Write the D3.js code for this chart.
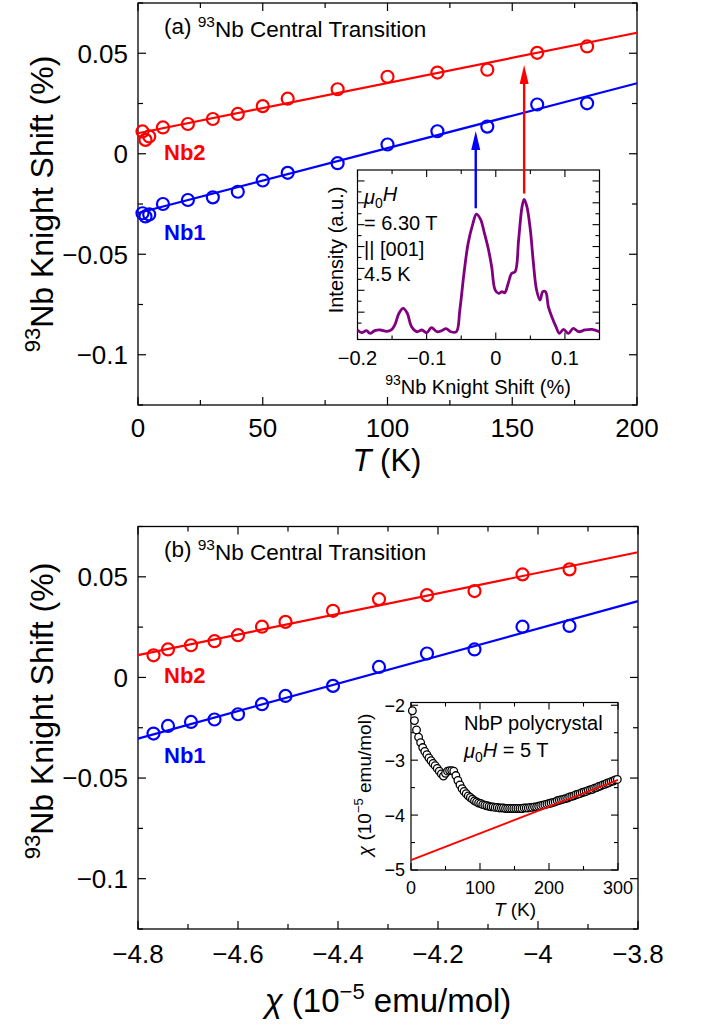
<!DOCTYPE html>
<html><head><meta charset="utf-8">
<script src="https://cdn.jsdelivr.net/npm/d3@7"></script>
<style>
body{margin:0;background:#fff}
svg{display:block}
text{font-family:"Liberation Sans",Arial,Helvetica,sans-serif;fill:#000}
</style>
</head><body>
<svg id="c" width="705" height="1025"></svg>
<script>
// ---------------- DATA ----------------
// Panel (a): Knight shift vs temperature
const tempA = [1.8, 3, 4.5, 10, 20, 30, 40, 50, 60, 80, 100, 120, 140, 160, 180];
const nb2ShiftA = [0.0111, 0.0069, 0.0086, 0.0131, 0.0148, 0.0173, 0.0198, 0.0237, 0.0274, 0.0321, 0.0383, 0.0404, 0.0418, 0.0502, 0.0534];
const nb1ShiftA = [-0.0296, -0.0312, -0.0302, -0.0250, -0.0230, -0.0217, -0.0189, -0.0133, -0.0095, -0.0047, 0.0046, 0.0112, 0.0135, 0.0245, 0.0251];
const fitTempA = [0, 200];
const nb2FitA = [0.0102, 0.0602];
const nb1FitA = [-0.0295, 0.0351];
const xTicksA = [0, 50, 100, 150, 200];
const xTickLabelsA = ["0", "50", "100", "150", "200"];
const yTicks = [0.05, 0, -0.05, -0.1];
const yTickLabels = ["0.05", "0", "\u22120.05", "\u22120.1"];

// Inset (a): 93Nb spectrum at 4.5 K
const specShift = [-0.200,-0.194,-0.187,-0.182,-0.175,-0.167,-0.158,-0.151,-0.146,-0.140,-0.134,-0.128,-0.122,-0.114,-0.107,-0.100,-0.093,-0.085,-0.078,-0.072,-0.065,-0.057,-0.052,-0.046,-0.040,-0.033,-0.028,-0.022,-0.017,-0.011,-0.006,-0.001,0.004,0.009,0.013,0.018,0.023,0.028,0.033,0.038,0.041,0.045,0.050,0.054,0.059,0.064,0.068,0.072,0.076,0.081,0.087,0.092,0.098,0.105,0.112,0.120,0.129,0.139,0.150];
const specIntensity = [0.37,0.12,0.31,0.06,0.31,0.37,0.24,0.37,0.83,1.90,2.35,1.90,0.68,0.21,0.37,0.12,0.59,0.21,0.31,0.49,0.21,0.21,2.20,5.55,8.29,10.12,10.97,10.49,9.36,7.84,6.17,4.03,3.72,3.87,3.78,4.65,5.55,5.70,8.60,11.65,12.32,11.65,9.51,6.77,4.03,3.11,3.87,3.87,2.51,1.59,0.68,0.06,0.43,0.06,0.52,0.21,0.37,0.43,0.21];
const specXTicks = [-0.2, -0.1, 0, 0.1];
const specXTickLabels = ["\u22120.2", "\u22120.1", "0", "0.1"];
const arrowShift = [-0.029, 0.041];      // Nb1, Nb2 peak positions
const arrowTailInt = [11.5, 12.85];       // start just above the peaks
const arrowTipShift = [0.0113, 0.0441];   // arrow tips in panel (a) units

// Panel (b): Knight shift vs susceptibility
const chiB = [-4.769, -4.740, -4.694, -4.647, -4.600, -4.552, -4.505, -4.410, -4.318, -4.222, -4.127, -4.031, -3.937];
const nb2ShiftB = [0.0110, 0.0139, 0.0160, 0.0180, 0.0210, 0.0252, 0.0276, 0.0331, 0.0389, 0.0409, 0.0429, 0.0512, 0.0537];
const nb1ShiftB = [-0.0279, -0.0241, -0.0221, -0.0209, -0.0183, -0.0133, -0.0092, -0.0042, 0.0052, 0.0119, 0.0139, 0.0252, 0.0256];
const fitChiB = [-4.8, -3.8];
const nb2FitB = [0.0111, 0.0622];
const nb1FitB = [-0.0304, 0.0379];
const xTicksB = [-4.8, -4.6, -4.4, -4.2, -4.0, -3.8];
const xTickLabelsB = ["\u22124.8", "\u22124.6", "\u22124.4", "\u22124.2", "\u22124", "\u22123.8"];

// Inset (b): chi(T) of NbP polycrystal
const susT = [2,5,8,11,14,17,20,23,26,29,32,35,38,41,44,47,50,53,56,59,62,65,68,71,74,77,80,83,86,89,92,95,98,101,104,107,110,113,116,119,122,125,128,131,134,137,140,143,146,149,152,155,158,161,164,167,170,173,176,179,182,185,188,191,194,197,200,203,206,209,212,215,218,221,224,227,230,233,236,239,242,245,248,251,254,257,260,263,266,269,272,275,278,281,284,287,290,293,296,299];
const susChi = [-2.10,-2.28,-2.45,-2.58,-2.68,-2.77,-2.84,-2.90,-2.96,-3.01,-3.06,-3.10,-3.15,-3.20,-3.25,-3.29,-3.24,-3.20,-3.19,-3.19,-3.20,-3.28,-3.37,-3.45,-3.52,-3.57,-3.61,-3.65,-3.68,-3.71,-3.74,-3.76,-3.78,-3.79,-3.81,-3.82,-3.83,-3.84,-3.85,-3.85,-3.86,-3.86,-3.87,-3.87,-3.87,-3.88,-3.88,-3.88,-3.88,-3.88,-3.88,-3.88,-3.88,-3.88,-3.87,-3.87,-3.87,-3.86,-3.86,-3.85,-3.85,-3.84,-3.83,-3.82,-3.81,-3.80,-3.79,-3.78,-3.77,-3.76,-3.74,-3.73,-3.72,-3.71,-3.70,-3.69,-3.67,-3.66,-3.65,-3.63,-3.62,-3.61,-3.59,-3.58,-3.57,-3.55,-3.54,-3.53,-3.51,-3.50,-3.48,-3.47,-3.45,-3.44,-3.42,-3.41,-3.39,-3.38,-3.36,-3.35];
const susFitT = [0, 300];
const susFitChi = [-4.82, -3.36];
const susXTicks = [0, 100, 200, 300];
const susYTicks = [-2, -3, -4, -5];
const susYTickLabels = ["\u22122", "\u22123", "\u22124", "\u22125"];

// ---------------- DRAWING ----------------
const RED = "#ff0000", BLUE = "#0000ff", PURPLE = "#800080";
const svg = d3.select("#c");

function frame(g, x, y, o) {
  const [x0, x1] = x.range(), [y0, y1] = y.range(); // y0 bottom, y1 top
  g.append("rect").attr("x", x0).attr("y", y1).attr("width", x1 - x0).attr("height", y0 - y1)
    .attr("fill", o.fill || "none").attr("stroke", "#000").attr("stroke-width", o.sw || 1.3);
  const tk = g.append("g").attr("stroke", "#000").attr("stroke-width", o.tw || 1.2);
  const addX = (vals, len) => vals.forEach(v => {
    const px = x(v);
    tk.append("line").attr("x1", px).attr("x2", px).attr("y1", y0).attr("y2", y0 - len);
    tk.append("line").attr("x1", px).attr("x2", px).attr("y1", y1).attr("y2", y1 + len);
  });
  const addY = (vals, len) => vals.forEach(v => {
    const py = y(v);
    tk.append("line").attr("y1", py).attr("y2", py).attr("x1", x0).attr("x2", x0 + len);
    tk.append("line").attr("y1", py).attr("y2", py).attr("x1", x1).attr("x2", x1 - len);
  });
  addX(o.xMinor, o.minLen); addX(o.xMajor, o.majLen);
  addY(o.yMinor, o.minLen); addY(o.yMajor, o.majLen);
}
function between(vals, ticks) { // minor tick values lying between majors
  return vals.filter(v => !ticks.some(t => Math.abs(t - v) < 1e-9));
}
function sup93(t, size) {
  t.append("tspan").attr("font-size", size).attr("dy", "-0.42em").text("93");
  t.append("tspan").attr("dy", "0.42em").text("Nb Knight Shift (%)");
}

// ===== Panel (a) =====
const xA = d3.scaleLinear().domain([0, 200]).range([138, 637]);
const yA = d3.scaleLinear().domain([-0.125, 0.075]).range([405, 3]);
const gA = svg.append("g");
frame(gA, xA, yA, {
  xMajor: xTicksA, xMinor: between(d3.range(0, 201, 25), xTicksA),
  yMajor: yTicks, yMinor: between(d3.range(-0.125, 0.0751, 0.025).map(v => +v.toFixed(3)), yTicks),
  majLen: 8, minLen: 5
});
xTicksA.forEach((v, i) => gA.append("text").attr("x", xA(v)).attr("y", 437).attr("text-anchor", "middle")
  .attr("font-size", 26).text(xTickLabelsA[i]));
yTicks.forEach((v, i) => gA.append("text").attr("x", 128).attr("y", yA(v)).attr("dy", "0.36em")
  .attr("text-anchor", "end").attr("font-size", 26).text(yTickLabels[i]));

const lineA = d3.line().x(d => xA(d[0])).y(d => yA(d[1]));
gA.append("path").attr("d", lineA(d3.zip(fitTempA, nb2FitA))).attr("stroke", RED).attr("stroke-width", 2.2).attr("fill", "none");
gA.append("path").attr("d", lineA(d3.zip(fitTempA, nb1FitA))).attr("stroke", BLUE).attr("stroke-width", 2.2).attr("fill", "none");
gA.append("g").selectAll("circle").data(d3.zip(tempA, nb2ShiftA)).join("circle")
  .attr("cx", d => xA(d[0])).attr("cy", d => yA(d[1])).attr("r", 6)
  .attr("fill", "none").attr("stroke", RED).attr("stroke-width", 2.2);
gA.append("g").selectAll("circle").data(d3.zip(tempA, nb1ShiftA)).join("circle")
  .attr("cx", d => xA(d[0])).attr("cy", d => yA(d[1])).attr("r", 6)
  .attr("fill", "none").attr("stroke", BLUE).attr("stroke-width", 2.2);

// title
const tA = gA.append("text").attr("x", 164).attr("y", 34).attr("font-size", 22.5);
tA.append("tspan").text("(a) ");
tA.append("tspan").attr("font-size", 15.5).attr("dy", "-0.45em").text("93");
tA.append("tspan").attr("dy", "0.45em").text("Nb Central Transition");
gA.append("text").attr("x", 164).attr("y", 160).attr("font-size", 22).attr("font-weight", "bold").style("fill", RED).text("Nb2");
gA.append("text").attr("x", 164).attr("y", 240).attr("font-size", 22).attr("font-weight", "bold").style("fill", BLUE).text("Nb1");

// axis titles
const xtA = gA.append("text").attr("x", 387).attr("y", 471).attr("text-anchor", "middle").attr("font-size", 31);
xtA.append("tspan").attr("font-style", "italic").text("T");
xtA.append("tspan").text(" (K)");
const ytA = gA.append("text").attr("transform", "translate(49,204) rotate(-90)").attr("text-anchor", "middle").attr("font-size", 32);
sup93(ytA, 22);

// ===== Inset (a) =====
const xS = d3.scaleLinear().domain([-0.2, 0.15]).range([357.5, 599.5]);
const yS = d3.scaleLinear().domain([-0.5, 15]).range([339.5, 170]);
const gS = svg.append("g");
frame(gS, xS, yS, {
  fill: "#fff",
  xMajor: specXTicks, xMinor: [-0.15, -0.05, 0.05],
  yMajor: [2, 4, 6, 8, 10, 12, 14], yMinor: [1, 3, 5, 7, 9, 11, 13],
  majLen: 7, minLen: 4, sw: 1.2, tw: 1.1
});
specXTicks.forEach((v, i) => gS.append("text").attr("x", xS(v)).attr("y", 365).attr("text-anchor", "middle")
  .attr("font-size", 20).text(specXTickLabels[i]));
gS.append("path")
  .attr("d", d3.line().curve(d3.curveCatmullRom).x(d => xS(d[0])).y(d => yS(d[1]))(d3.zip(specShift, specIntensity)))
  .attr("fill", "none").attr("stroke", PURPLE).attr("stroke-width", 2.8).attr("stroke-linejoin", "round");
gS.append("text").attr("transform", "translate(343,250) rotate(-90)").attr("text-anchor", "middle")
  .attr("font-size", 20).text("Intensity (a.u.)");
const xlS = gS.append("text").attr("x", 478).attr("y", 391).attr("text-anchor", "middle").attr("font-size", 20);
sup93(xlS, 14);
const m1 = gS.append("text").attr("x", 364).attr("y", 204).attr("font-size", 20);
m1.append("tspan").attr("font-style", "italic").text("\u03bc");
m1.append("tspan").attr("font-size", 14).attr("dy", "0.25em").text("0");
m1.append("tspan").attr("font-style", "italic").attr("dy", "-0.35em").text("H");
gS.append("text").attr("x", 364).attr("y", 230).attr("font-size", 20).text("= 6.30 T");
gS.append("text").attr("x", 364).attr("y", 255.5).attr("font-size", 20).text("|| [001]");
gS.append("text").attr("x", 364).attr("y", 281).attr("font-size", 20).text("4.5 K");

// arrows from spectrum peaks to panel (a) lines
[BLUE, RED].forEach((c, i) => {
  const px = xS(arrowShift[i]);
  const yTail = yS(arrowTailInt[i]);
  const yTip = yA(arrowTipShift[i]);
  const hl = 19, hw = 4.5;
  svg.append("line").attr("x1", px).attr("x2", px).attr("y1", yTail).attr("y2", yTip + hl - 2)
    .attr("stroke", c).attr("stroke-width", 2.4);
  svg.append("path").attr("d", `M${px},${yTip} L${px - hw},${yTip + hl} L${px + hw},${yTip + hl} Z`).attr("fill", c);
});

// ===== Panel (b) =====
const xB = d3.scaleLinear().domain([-4.8, -3.8]).range([138, 638]);
const yB = d3.scaleLinear().domain([-0.125, 0.075]).range([929, 526.5]);
const gB = svg.append("g");
frame(gB, xB, yB, {
  xMajor: xTicksB, xMinor: [-4.7, -4.5, -4.3, -4.1, -3.9],
  yMajor: yTicks, yMinor: between(d3.range(-0.125, 0.0751, 0.025).map(v => +v.toFixed(3)), yTicks),
  majLen: 8, minLen: 5
});
xTicksB.forEach((v, i) => gB.append("text").attr("x", xB(v)).attr("y", 963).attr("text-anchor", "middle")
  .attr("font-size", 26).text(xTickLabelsB[i]));
yTicks.forEach((v, i) => gB.append("text").attr("x", 128).attr("y", yB(v)).attr("dy", "0.36em")
  .attr("text-anchor", "end").attr("font-size", 26).text(yTickLabels[i]));
const lineB = d3.line().x(d => xB(d[0])).y(d => yB(d[1]));
gB.append("path").attr("d", lineB(d3.zip(fitChiB, nb2FitB))).attr("stroke", RED).attr("stroke-width", 2.2).attr("fill", "none");
gB.append("path").attr("d", lineB(d3.zip(fitChiB, nb1FitB))).attr("stroke", BLUE).attr("stroke-width", 2.2).attr("fill", "none");
gB.append("g").selectAll("circle").data(d3.zip(chiB, nb2ShiftB)).join("circle")
  .attr("cx", d => xB(d[0])).attr("cy", d => yB(d[1])).attr("r", 6)
  .attr("fill", "none").attr("stroke", RED).attr("stroke-width", 2.2);
gB.append("g").selectAll("circle").data(d3.zip(chiB, nb1ShiftB)).join("circle")
  .attr("cx", d => xB(d[0])).attr("cy", d => yB(d[1])).attr("r", 6)
  .attr("fill", "none").attr("stroke", BLUE).attr("stroke-width", 2.2);
const tB = gB.append("text").attr("x", 164).attr("y", 557).attr("font-size", 22.5);
tB.append("tspan").text("(b) ");
tB.append("tspan").attr("font-size", 15.5).attr("dy", "-0.45em").text("93");
tB.append("tspan").attr("dy", "0.45em").text("Nb Central Transition");
gB.append("text").attr("x", 164).attr("y", 683).attr("font-size", 22).attr("font-weight", "bold").style("fill", RED).text("Nb2");
gB.append("text").attr("x", 164).attr("y", 763).attr("font-size", 22).attr("font-weight", "bold").style("fill", BLUE).text("Nb1");
const xtB = gB.append("text").attr("x", 388).attr("y", 1012).attr("text-anchor", "middle").attr("font-size", 33);
xtB.append("tspan").attr("font-style", "italic").text("\u03c7");
xtB.append("tspan").text(" (10");
xtB.append("tspan").attr("font-size", 22).attr("dy", "-0.6em").text("\u22125");
xtB.append("tspan").attr("dy", "0.4em").text(" emu/mol)");
const ytB = gB.append("text").attr("transform", "translate(49,711) rotate(-90)").attr("text-anchor", "middle").attr("font-size", 32);
sup93(ytB, 22);

// ===== Inset (b) =====
const xI = d3.scaleLinear().domain([0, 300]).range([411, 618]);
const yI = d3.scaleLinear().domain([-5, -1.95]).range([870, 702.5]);
const gI = svg.append("g");
frame(gI, xI, yI, {
  fill: "#fff",
  xMajor: susXTicks, xMinor: [50, 150, 250],
  yMajor: susYTicks, yMinor: [-2.5, -3.5, -4.5],
  majLen: 7, minLen: 4, sw: 1.2, tw: 1.1
});
susXTicks.forEach(v => gI.append("text").attr("x", xI(v)).attr("y", 894).attr("text-anchor", "middle")
  .attr("font-size", 18).text(String(v)));
susYTicks.forEach((v, i) => gI.append("text").attr("x", 405).attr("y", yI(v)).attr("dy", "0.36em")
  .attr("text-anchor", "end").attr("font-size", 18).text(susYTickLabels[i]));
gI.append("g").selectAll("circle").data(d3.zip(susT, susChi)).join("circle")
  .attr("cx", d => xI(d[0])).attr("cy", d => yI(d[1])).attr("r", 3.8)
  .attr("fill", "#fff").attr("stroke", "#000").attr("stroke-width", 1.3);
gI.append("path").attr("d", d3.line().x(d => xI(d[0])).y(d => yI(d[1]))(d3.zip(susFitT, susFitChi)))
  .attr("stroke", RED).attr("stroke-width", 2).attr("fill", "none");
gI.append("text").attr("x", 464).attr("y", 730).attr("font-size", 20).text("NbP polycrystal");
const m2 = gI.append("text").attr("x", 464).attr("y", 758).attr("font-size", 20);
m2.append("tspan").attr("font-style", "italic").text("\u03bc");
m2.append("tspan").attr("font-size", 14).attr("dy", "0.25em").text("0");
m2.append("tspan").attr("font-style", "italic").attr("dy", "-0.25em").text("H");
m2.append("tspan").text(" = 5 T");
const xlI = gI.append("text").attr("x", 515).attr("y", 916).attr("text-anchor", "middle").attr("font-size", 19);
xlI.append("tspan").attr("font-style", "italic").text("T");
xlI.append("tspan").text(" (K)");
const ylI = gI.append("text").attr("transform", "translate(371,785) rotate(-90)").attr("text-anchor", "middle").attr("font-size", 19);
ylI.append("tspan").attr("font-style", "italic").text("\u03c7");
ylI.append("tspan").text(" (10");
ylI.append("tspan").attr("font-size", 13).attr("dy", "-0.6em").text("\u22125");
ylI.append("tspan").attr("dy", "0.4em").text(" emu/mol)");
</script>
</body></html>
